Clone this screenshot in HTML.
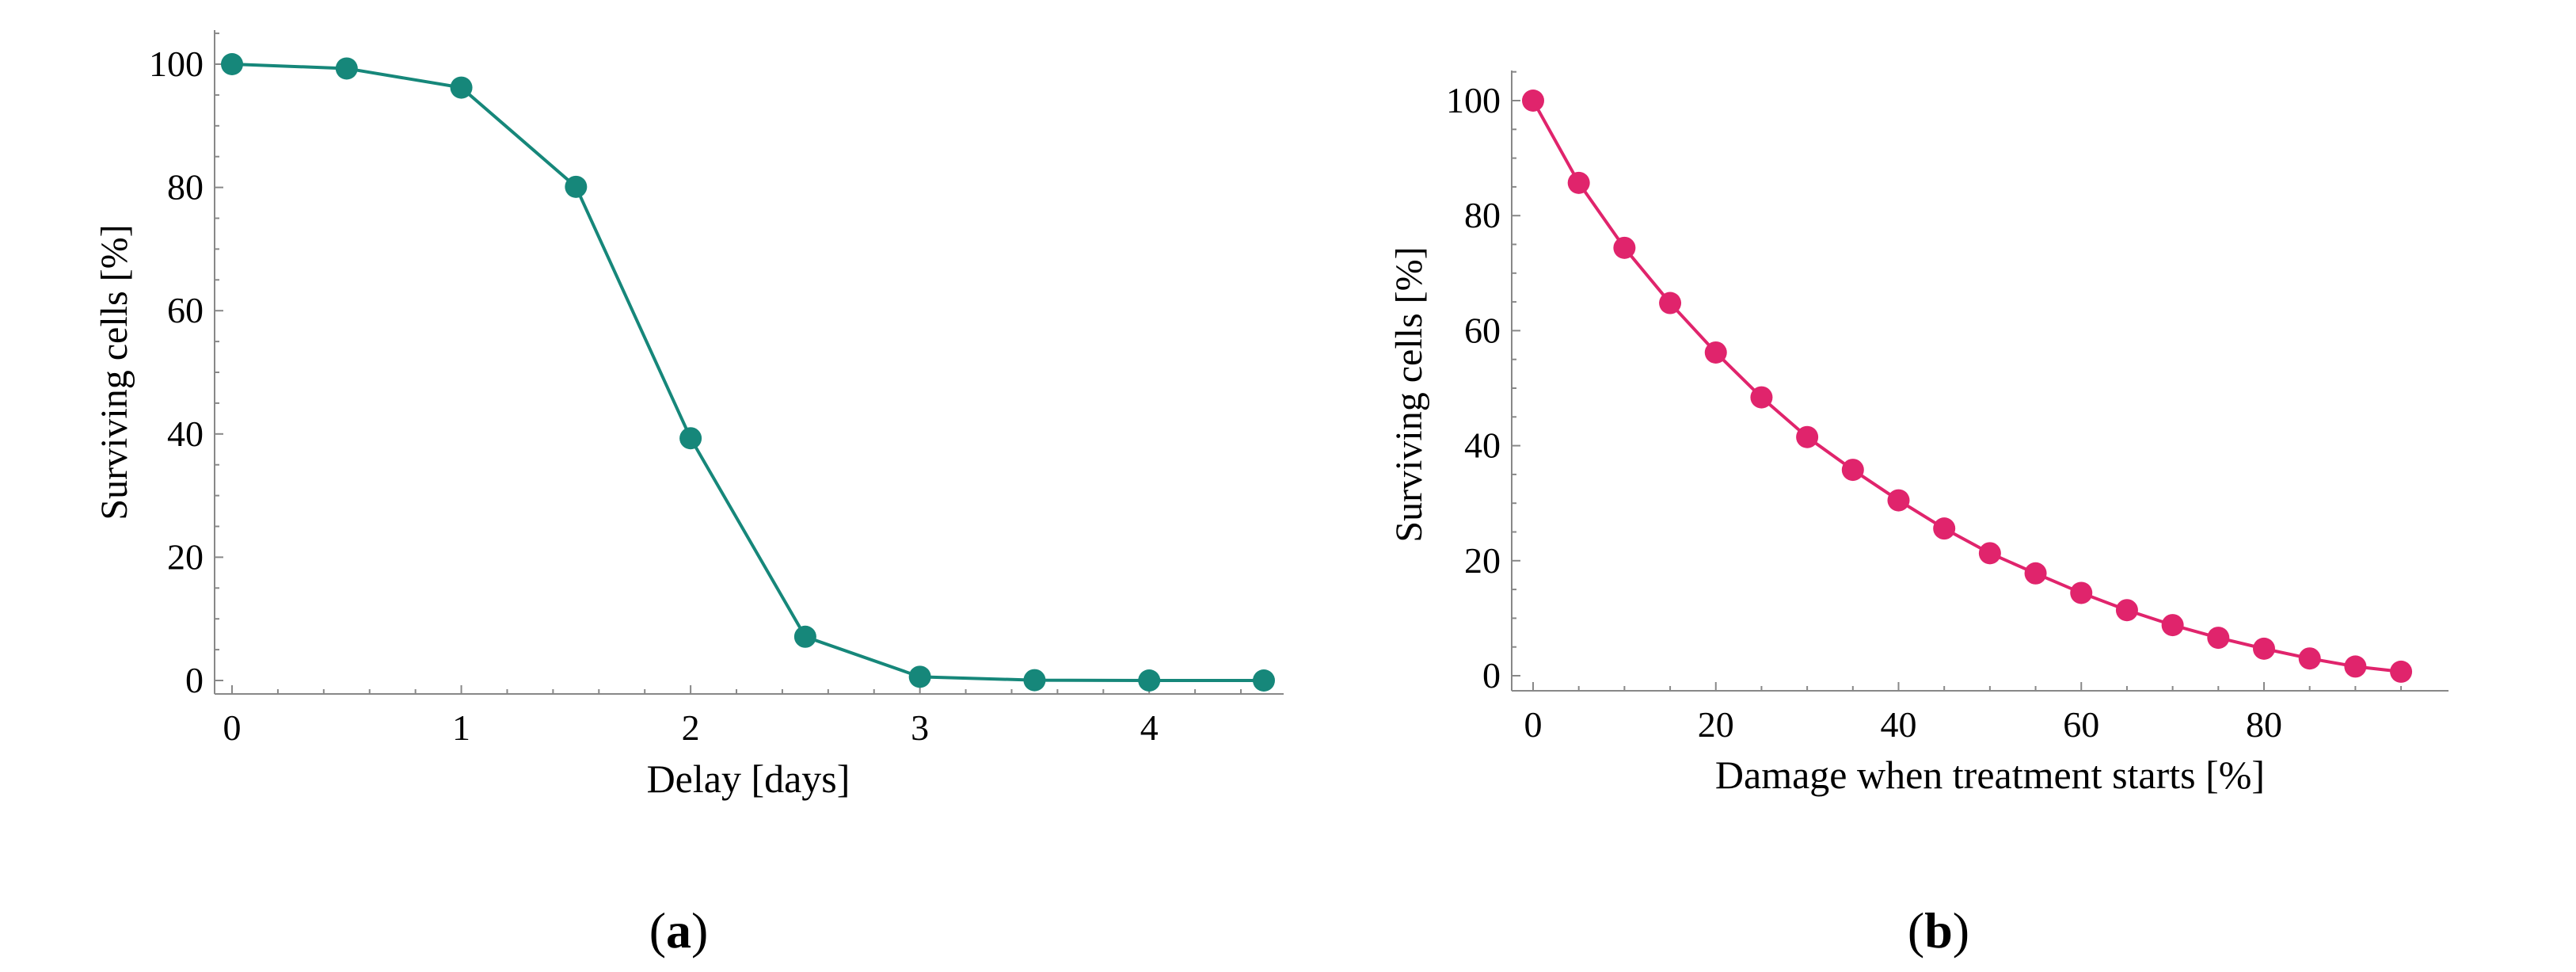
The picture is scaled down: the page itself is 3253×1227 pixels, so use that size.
<!DOCTYPE html>
<html><head><meta charset="utf-8"><style>
html,body{margin:0;padding:0;background:#fff;}
svg{display:block;}
text{font-family:"Liberation Serif",serif;fill:#000;}
</style></head><body>
<svg id="fig" width="3253" height="1227" viewBox="0 0 3253 1227"></svg>
<script>
const delayDays=[0,0.5,1,1.5,2,2.5,3,3.5,4,4.5];
const survivingA=[100,99.3,96.2,80.1,39.3,7.1,0.6,0.05,0,0];
const xTicksA=[0,1,2,3,4];
const damagePct=[0,5,10,15,20,25,30,35,40,45,50,55,60,65,70,75,80,85,90,95];
const survivingB=[100,85.7,74.4,64.8,56.2,48.4,41.5,35.8,30.5,25.6,21.3,17.8,14.4,11.4,8.8,6.6,4.7,3.0,1.6,0.7];
const xTicksB=[0,20,40,60,80];
const yTicks=[0,20,40,60,80,100];

const NS="http://www.w3.org/2000/svg";
const svg=document.getElementById('fig');
function el(tag,attrs,parent){const e=document.createElementNS(NS,tag);for(const k in attrs)e.setAttribute(k,attrs[k]);(parent||svg).appendChild(e);return e;}

function panel(cfg){
  const g=el('g',{});
  
  
  const sx=v=>cfg.x0+(v-cfg.xmin)/(cfg.xmax-cfg.xmin)*(cfg.x1-cfg.x0);
  const sy=v=>cfg.y0+(v-0)/100*(cfg.y1-cfg.y0);
  const ax=el('g',{},g);
  
  
  el('line',{x1:cfg.axL,y1:cfg.axB,x2:cfg.axR,y2:cfg.axB,stroke:'#888','stroke-width':2},ax);
  el('line',{x1:cfg.axL,y1:cfg.axB,x2:cfg.axL,y2:cfg.axT,stroke:'#888','stroke-width':2},ax);
  for(let v=0;v<=105;v+=5){
    const y=sy(v);if(y<cfg.axT)continue;
    const major=v%20===0;
    el('line',{x1:cfg.axL,y1:y,x2:cfg.axL+(major?11:6),y2:y,stroke:'#888','stroke-width':2},ax);
  }
  yTicks.forEach(v=>{
    const t=el('text',{x:cfg.axL-14,y:sy(v)+15,'font-size':46,'text-anchor':'end'},ax);
    t.textContent=v;
    
    
  });
  for(let v=cfg.xmin;v<=cfg.xmax*1.2;v+=cfg.minor){
    const x=sx(v);if(x>cfg.axR)continue;
    const major=Math.abs(v/cfg.major-Math.round(v/cfg.major))<1e-6;
    el('line',{x1:x,y1:cfg.axB,x2:x,y2:cfg.axB-(major?11:6),stroke:'#888','stroke-width':2},ax);
  }
  cfg.xt.forEach(v=>{
    const t=el('text',{x:sx(v),y:cfg.axB+58,'font-size':46,'text-anchor':'middle'},ax);
    t.textContent=v;
    
    
  });
  const xl=el('text',{x:cfg.xlx,y:cfg.xly,'font-size':50,'text-anchor':'middle'},g);
  xl.textContent=cfg.xlabel;
  
  
  const yl=el('text',{x:0,y:0,'font-size':48,'text-anchor':'middle',transform:`translate(${cfg.ylx},${cfg.yly}) rotate(-90)`},g);
  yl.textContent='Surviving cells [%]';
  
  
  const pts=cfg.xs.map((v,i)=>sx(v)+','+sy(cfg.ys[i])).join(' ');
  const line=el('polyline',{points:pts,fill:'none',stroke:cfg.color,'stroke-width':4},g);
  
  
  cfg.xs.forEach((v,i)=>{
    const c=el('circle',{cx:sx(v),cy:sy(cfg.ys[i]),r:14,fill:cfg.color},g);
    
    
  });
  const cap=el('text',{x:cfg.capx,y:1196,'font-size':64,'text-anchor':'middle'},g);
  cap.innerHTML='(<tspan font-weight="bold">'+cfg.cap+'</tspan>)';
  
  
}
panel({name:'chart-a',xs:delayDays,ys:survivingA,xt:xTicksA,xmin:0,xmax:4.5,x0:293,x1:1596,y0:859,y1:81,
  axL:271,axR:1621,axT:38,axB:876,major:1,minor:0.2,color:'#16877a',xlabel:'Delay [days]',xlx:945,xly:1000,ylx:160,yly:470,capx:857,cap:'a'});
panel({name:'chart-b',xs:damagePct,ys:survivingB,xt:xTicksB,xmin:0,xmax:80,x0:1936,x1:2859,y0:853,y1:127,
  axL:1909,axR:3092,axT:89,axB:872,major:20,minor:5,color:'#e0246c',xlabel:'Damage when treatment starts [%]',xlx:2513,xly:995,ylx:1795,yly:498,capx:2448,cap:'b'});
</script>
</body></html>
